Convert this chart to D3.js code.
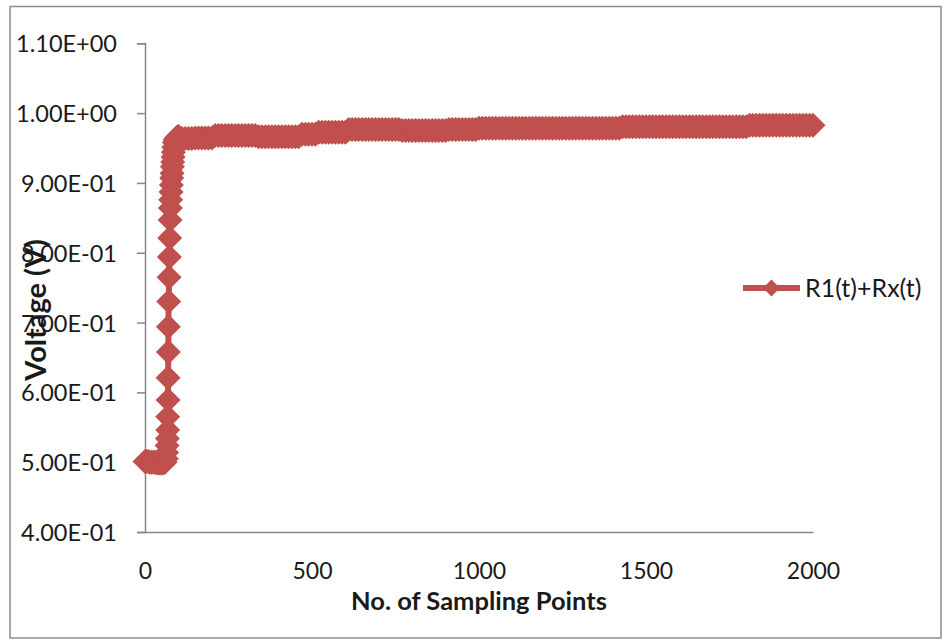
<!DOCTYPE html>
<html>
<head>
<meta charset="utf-8">
<script src="https://cdn.jsdelivr.net/npm/d3@7/dist/d3.min.js"></script>
<style>
  html, body { margin: 0; padding: 0; background: #ffffff; }
  svg { display: block; }
</style>
</head>
<body>
<svg id="chart" width="944" height="640"></svg>
<script>
// ---------- data ----------
const seriesName = "R1(t)+Rx(t)";
const xTitle = "No. of Sampling Points";
const yTitle = "Voltage (V)";

const xTicks = [0, 500, 1000, 1500, 2000];
const yTicks = [0.4, 0.5, 0.6, 0.7, 0.8, 0.9, 1.0, 1.1];
const yTickLabels = ["4.00E-01", "5.00E-01", "6.00E-01", "7.00E-01", "8.00E-01", "9.00E-01", "1.00E+00", "1.10E+00"];

// flat start and the fast rise
const riseX = [0, 5, 10, 15, 20, 25, 30, 35, 40, 45, 50, 55, 60,
  64, 65, 66, 67, 68, 68, 69, 69, 70, 70, 71, 72, 73, 74, 75, 76, 77, 78, 79, 80, 81, 82, 83, 84, 85, 86, 88, 90, 95, 100];
const riseY = [0.501, 0.501, 0.501, 0.500, 0.500, 0.500, 0.500, 0.499, 0.499, 0.499, 0.499, 0.499, 0.500,
  0.505, 0.514, 0.524, 0.534, 0.546, 0.565, 0.589, 0.621, 0.658, 0.694, 0.730, 0.765, 0.794, 0.821, 0.847, 0.864,
  0.876, 0.887, 0.897, 0.907, 0.914, 0.923, 0.930, 0.937, 0.944, 0.951, 0.958, 0.962, 0.965, 0.967];

// plateau, sampled every 10 points from 110 to 2000
const plateauStart = 110, plateauStep = 10;
const plateauY = [
  0.9636, 0.9636, 0.9636, 0.9636,                                   // 110-140
  0.9645, 0.9645, 0.9645, 0.9645, 0.9645, 0.9645,                   // 150-200
  0.9679, 0.9679, 0.9679, 0.9679, 0.9679, 0.9679, 0.9679, 0.9679, 0.9679, 0.9679, 0.9679, 0.9679, 0.9679, // 210-330
  0.9662, 0.9662, 0.9662, 0.9662, 0.9662, 0.9662, 0.9662, 0.9662, 0.9662, 0.9662, 0.9662, 0.9662, 0.9662, // 340-460
  0.9698, 0.9698, 0.9698, 0.9698, 0.9698,                           // 470-510
  0.9726, 0.9726, 0.9726, 0.9726, 0.9726, 0.9726, 0.9726, 0.9726, 0.9726, // 520-600
  0.9765, 0.9765, 0.9765, 0.9765, 0.9765, 0.9765, 0.9765, 0.9765,
  0.9765, 0.9765, 0.9765, 0.9765, 0.9765, 0.9765, 0.9765, 0.9765,   // 610-760
  0.9750, 0.9750, 0.9750, 0.9750, 0.9750, 0.9750, 0.9750,
  0.9750, 0.9750, 0.9750, 0.9750, 0.9750, 0.9750, 0.9750,           // 770-900
  0.9766, 0.9766, 0.9766, 0.9766, 0.9766, 0.9766, 0.9766, 0.9766, 0.9766, // 910-990
  0.9783, 0.9783, 0.9783, 0.9783, 0.9783, 0.9783, 0.9783, 0.9783, 0.9783, 0.9783,
  0.9783, 0.9783, 0.9783, 0.9783, 0.9783, 0.9783, 0.9783, 0.9783, 0.9783, 0.9783,
  0.9783, 0.9783, 0.9783, 0.9783, 0.9783, 0.9783, 0.9783, 0.9783, 0.9783, 0.9783,
  0.9783, 0.9783, 0.9783, 0.9783, 0.9783, 0.9783, 0.9783, 0.9783, 0.9783, 0.9783,
  0.9783, 0.9783, 0.9783,                                           // 1000-1420
  0.9803, 0.9803, 0.9803, 0.9803, 0.9803, 0.9803, 0.9803, 0.9803, 0.9803, 0.9803,
  0.9803, 0.9803, 0.9803, 0.9803, 0.9803, 0.9803, 0.9803, 0.9803, 0.9803, 0.9803,
  0.9803, 0.9803, 0.9803, 0.9803, 0.9803, 0.9803, 0.9803, 0.9803, 0.9803, 0.9803,
  0.9803, 0.9803, 0.9803, 0.9803, 0.9803, 0.9803, 0.9803, 0.9803,   // 1430-1800
  0.9826, 0.9826, 0.9826, 0.9826, 0.9826, 0.9826, 0.9826, 0.9826, 0.9826, 0.9826,
  0.9826, 0.9826, 0.9826, 0.9826, 0.9826, 0.9826, 0.9826, 0.9826, 0.9826, 0.9826  // 1810-2000
];

// ---------- build points ----------
const points = riseX.map((x, i) => ({ x: x, y: riseY[i] }))
  .concat(plateauY.map((y, i) => ({ x: plateauStart + i * plateauStep, y: y })));

// ---------- layout ----------
const plot = { left: 145, right: 813, top: 43.3, bottom: 532 };
const color = "#C0504D";
const axisColor = "#868686";
const font = "Lato, 'Open Sans', 'DejaVu Sans', sans-serif";

const svg = d3.select("#chart");

// outer chart border
svg.append("rect")
  .attr("x", 10).attr("y", 6.5)
  .attr("width", 931).attr("height", 631.5)
  .attr("fill", "#ffffff")
  .attr("stroke", "#8c8c8c")
  .attr("stroke-width", 1.5);

const x = d3.scaleLinear().domain([0, 2000]).range([plot.left, plot.right]);
const y = d3.scaleLinear().domain([0.4, 1.1]).range([plot.bottom, plot.top]);

// y axis
const yAxis = d3.axisLeft(y)
  .tickValues(yTicks)
  .tickSize(8)
  .tickPadding(20)
  .tickFormat((d, i) => yTickLabels[i]);
const gy = svg.append("g")
  .attr("transform", `translate(${plot.left},0)`)
  .call(yAxis);
gy.select(".domain").attr("stroke", axisColor).attr("stroke-width", 1.5);
gy.selectAll(".tick line").attr("stroke", axisColor).attr("stroke-width", 1.5);
gy.selectAll(".tick text")
  .attr("fill", "#1a1a1a")
  .attr("font-family", font)
  .attr("font-size", 23.5)
  .attr("dy", "0.36em");

// x axis (no tick marks)
const xAxis = d3.axisBottom(x)
  .tickValues(xTicks)
  .tickSize(0)
  .tickPadding(30)
  .tickFormat(d3.format("d"));
const gx = svg.append("g")
  .attr("transform", `translate(0,${plot.bottom})`)
  .call(xAxis);
gx.select(".domain").attr("stroke", axisColor).attr("stroke-width", 1.5);
gx.selectAll(".tick text")
  .attr("fill", "#1a1a1a")
  .attr("font-family", font)
  .attr("font-size", 23)
  .attr("dy", "0.36em")
  .attr("y", 39);

// axis titles
svg.append("text")
  .attr("x", (plot.left + plot.right) / 2)
  .attr("y", 610)
  .attr("text-anchor", "middle")
  .attr("font-family", font)
  .attr("font-weight", "bold")
  .attr("font-size", 25.5)
  .attr("fill", "#1a1a1a")
  .text(xTitle);

svg.append("text")
  .attr("transform", "translate(46,310) rotate(-90)")
  .attr("text-anchor", "middle")
  .attr("font-family", font)
  .attr("font-weight", "bold")
  .attr("font-size", 29)
  .attr("fill", "#1a1a1a")
  .text(yTitle);

// series line
const line = d3.line().x(d => x(d.x)).y(d => y(d.y));
svg.append("path")
  .datum(points)
  .attr("d", line)
  .attr("fill", "none")
  .attr("stroke", color)
  .attr("stroke-width", 6)
  .attr("stroke-linejoin", "round");

// diamond markers
const diamond = r => `M0,${-r}L${r},0L0,${r}L${-r},0Z`;
svg.append("g").selectAll("path")
  .data(points)
  .join("path")
  .attr("transform", d => `translate(${x(d.x)},${y(d.y)})`)
  .attr("d", diamond(12.5))
  .attr("fill", color);

// legend
const lg = svg.append("g").attr("transform", "translate(743,288)");
lg.append("line")
  .attr("x1", 0).attr("x2", 57)
  .attr("y1", 0).attr("y2", 0)
  .attr("stroke", color).attr("stroke-width", 6);
lg.append("path")
  .attr("transform", "translate(28.5,0)")
  .attr("d", diamond(8.5))
  .attr("fill", color);
lg.append("text")
  .attr("x", 62).attr("y", 0)
  .attr("dy", "0.36em")
  .attr("font-family", font)
  .attr("font-size", 25)
  .attr("fill", "#1a1a1a")
  .text(seriesName);
</script>
</body>
</html>
